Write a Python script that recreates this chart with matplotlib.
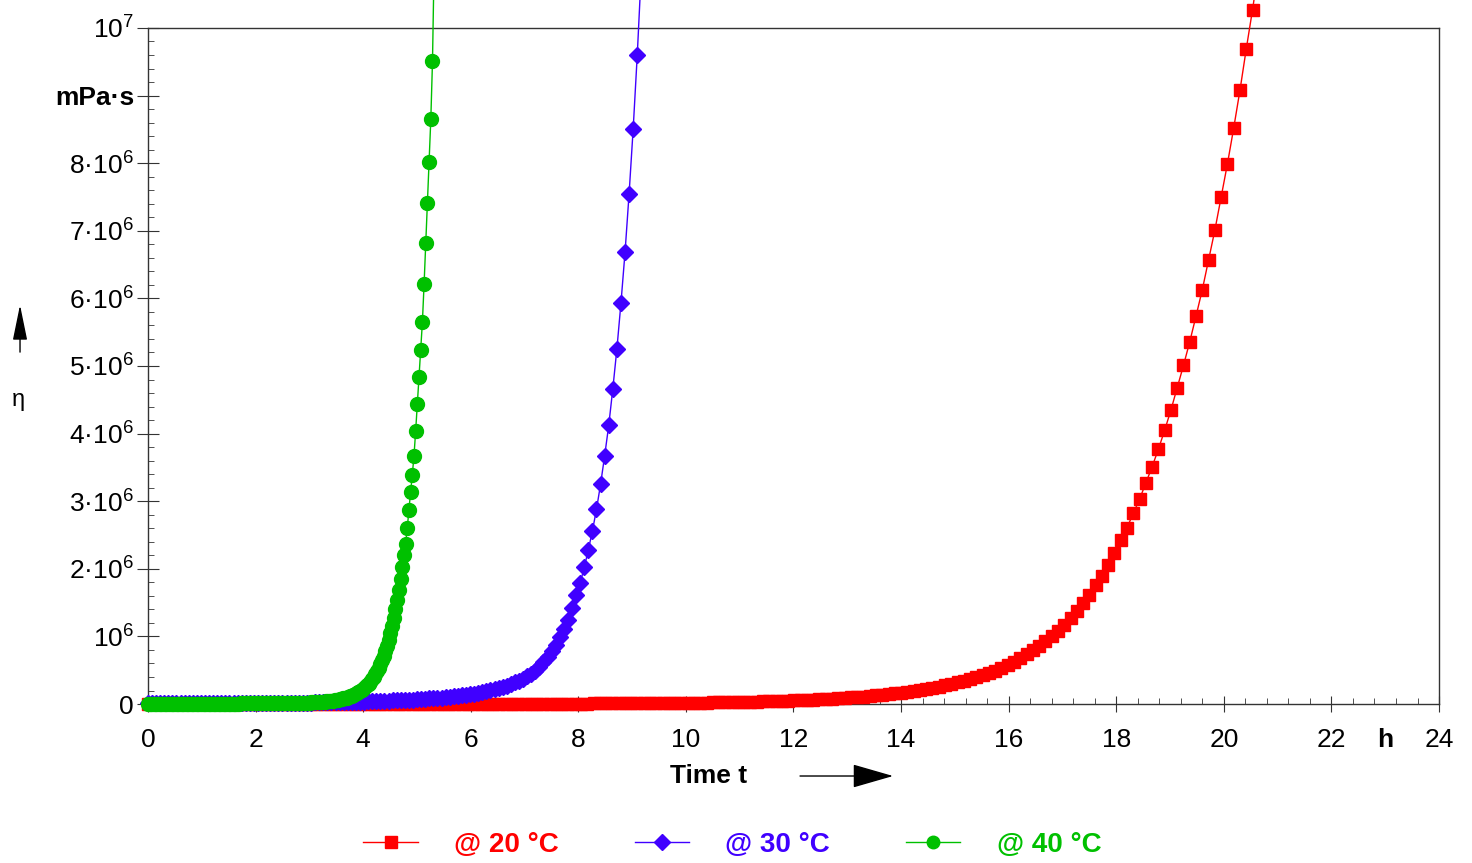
import matplotlib
matplotlib.use("Agg")
import matplotlib.pyplot as plt
import numpy as np
from matplotlib.ticker import FixedLocator, MultipleLocator

plt.rcParams['font.family'] = ['Liberation Sans', 'DejaVu Sans']
plt.rcParams['mathtext.fontset'] = 'custom'
plt.rcParams['mathtext.rm'] = 'Liberation Sans'
plt.rcParams['mathtext.it'] = 'Liberation Sans:italic'
plt.rcParams['mathtext.bf'] = 'Liberation Sans:bold'

# viscosity in 10^6 mPa·s, measured at regular intervals (hours)
step_20 = 7 / 60
step_30 = 0.0758
step_40 = 0.0313

visc_20 = [
    0.002, 0.002, 0.002, 0.002, 0.002, 0.002, 0.002, 0.002, 0.002, 0.002,
    0.002, 0.002, 0.002, 0.002, 0.002, 0.002, 0.002, 0.002, 0.002, 0.002,
    0.003, 0.003, 0.003, 0.003, 0.003, 0.003, 0.003, 0.003, 0.003, 0.003,
    0.003, 0.003, 0.003, 0.003, 0.003, 0.003, 0.003, 0.003, 0.003, 0.003,
    0.004, 0.004, 0.004, 0.004, 0.004, 0.004, 0.004, 0.004, 0.004, 0.004,
    0.004, 0.004, 0.004, 0.004, 0.004, 0.004, 0.004, 0.004, 0.004, 0.004,
    0.005, 0.005, 0.005, 0.005, 0.006, 0.006, 0.006, 0.006, 0.007, 0.007,
    0.007, 0.008, 0.008, 0.008, 0.009, 0.009, 0.010, 0.010, 0.011, 0.011,
    0.012, 0.013, 0.014, 0.015, 0.016, 0.017, 0.018, 0.019, 0.020, 0.021,
    0.023, 0.024, 0.026, 0.028, 0.029, 0.031, 0.033, 0.036, 0.038, 0.040,
    0.043, 0.046, 0.049, 0.053, 0.056, 0.060, 0.065, 0.069, 0.074, 0.079,
    0.085, 0.091, 0.097, 0.104, 0.111, 0.119, 0.127, 0.136, 0.146, 0.156,
    0.167, 0.180, 0.193, 0.208, 0.223, 0.240, 0.258, 0.277, 0.298, 0.321,
    0.345, 0.370, 0.398, 0.428, 0.460, 0.495, 0.535, 0.579, 0.626, 0.678,
    0.733, 0.793, 0.858, 0.929, 1.005, 1.087, 1.176, 1.273, 1.377,
    1.49, 1.62, 1.76, 1.90, 2.05, 2.23, 2.42, 2.61, 2.82, 3.03,
    3.27, 3.51, 3.77, 4.05, 4.35, 4.68, 5.01, 5.36, 5.74, 6.13,
    6.57, 7.01, 7.50, 7.99, 8.52, 9.08, 9.69, 10.27, 10.9,
]

visc_30 = [
    0.008, 0.008, 0.008, 0.009, 0.009, 0.009, 0.009, 0.010, 0.010, 0.010,
    0.010, 0.011, 0.011, 0.011, 0.011, 0.012, 0.012, 0.012, 0.012, 0.013,
    0.013, 0.013, 0.014, 0.014, 0.015, 0.015, 0.015, 0.016, 0.016, 0.017,
    0.017, 0.018, 0.018, 0.019, 0.019, 0.020, 0.020, 0.021, 0.021, 0.021,
    0.022, 0.023, 0.024, 0.025, 0.026, 0.027, 0.028, 0.029, 0.031, 0.032,
    0.033, 0.034, 0.036,
    0.037, 0.039, 0.041, 0.043, 0.045, 0.048, 0.050, 0.053, 0.055, 0.058,
    0.061, 0.064, 0.067, 0.071, 0.074, 0.078, 0.082,
    0.086, 0.091, 0.096, 0.102, 0.108, 0.115, 0.122, 0.129, 0.137, 0.145,
    0.154, 0.163, 0.173, 0.186, 0.201, 0.217, 0.235, 0.253, 0.274, 0.296,
    0.319, 0.345, 0.376, 0.410, 0.447, 0.487, 0.548, 0.617, 0.694, 0.780,
    0.878, 0.988, 1.11,
    1.25, 1.42, 1.61, 1.79, 2.02, 2.28, 2.56, 2.88, 3.25, 3.67,
    4.12, 4.66, 5.25, 5.93, 6.68, 7.55, 8.51, 9.60, 10.85,
]

visc_40 = [
    0.004, 0.004, 0.004, 0.004, 0.004, 0.004, 0.004, 0.004, 0.004, 0.004,
    0.005, 0.005, 0.005, 0.005, 0.005, 0.005, 0.005, 0.005, 0.005, 0.005,
    0.005, 0.005, 0.005, 0.005, 0.005, 0.005, 0.005, 0.005, 0.005, 0.005,
    0.006, 0.006, 0.006, 0.006, 0.006, 0.006, 0.006, 0.006, 0.006, 0.006,
    0.006, 0.006, 0.006, 0.006, 0.006, 0.007, 0.007, 0.007, 0.007, 0.007,
    0.007, 0.007, 0.007, 0.007, 0.007, 0.008, 0.008, 0.008, 0.008, 0.008,
    0.008, 0.008, 0.009, 0.009, 0.009, 0.010, 0.010, 0.010, 0.010, 0.011,
    0.011, 0.011, 0.012, 0.012, 0.012, 0.013, 0.013, 0.013, 0.014, 0.014,
    0.014, 0.014, 0.015, 0.015, 0.015, 0.015, 0.015, 0.015, 0.015, 0.015,
    0.015, 0.016, 0.017, 0.018, 0.020, 0.021, 0.022, 0.023, 0.025, 0.026,
    0.028, 0.029, 0.031, 0.033, 0.035, 0.037, 0.039, 0.042, 0.044,
    0.048, 0.052, 0.056, 0.060, 0.065, 0.071, 0.076, 0.082, 0.089, 0.096,
    0.105, 0.114, 0.125, 0.136, 0.148, 0.161, 0.176, 0.192, 0.209, 0.228,
    0.251, 0.276, 0.303, 0.333, 0.367, 0.403, 0.444, 0.488, 0.537, 0.591,
    0.650, 0.715, 0.786, 0.865, 0.95, 1.05, 1.15, 1.27, 1.40, 1.54,
    1.69, 1.85, 2.03, 2.20, 2.37, 2.60, 2.87, 3.14, 3.39, 3.67,
    4.04, 4.44, 4.84, 5.24, 5.65, 6.21, 6.82, 7.41, 8.02, 8.65, 9.51, 11.0,
]

series = [
    ('@ 20 °C', step_20, visc_20, '#ff0000', 's', 9),
    ('@ 30 °C', step_30, visc_30, '#4000ff', 'D', 8.5),
    ('@ 40 °C', step_40, visc_40, '#00c000', 'o', 10),
]

y_ticks = [0, 1, 2, 3, 4, 5, 6, 7, 8, 9, 10]
y_labels = ['0', '$10^{6}$', '$2·10^{6}$', '$3·10^{6}$', '$4·10^{6}$', '$5·10^{6}$',
            '$6·10^{6}$', '$7·10^{6}$', '$8·10^{6}$', 'mPa·s', '$10^{7}$']
x_ticks = [0, 2, 4, 6, 8, 10, 12, 14, 16, 18, 20, 22, 24]

fig = plt.figure(figsize=(14.72, 8.63), dpi=100)
ax = fig.add_axes([0.1005, 0.1842, 0.8771, 0.7834])

for label, step, vals, color, marker, ms in series:
    t = np.arange(len(vals)) * step
    ax.plot(t, vals, color=color, lw=1.0, marker=marker, ms=ms, mec=color,
            label=label, clip_on=False, zorder=3)

ax.set_xlim(0, 24)
ax.set_ylim(0, 10)

ax.xaxis.set_major_locator(FixedLocator(x_ticks))
ax.xaxis.set_minor_locator(MultipleLocator(0.4))
ax.yaxis.set_major_locator(FixedLocator(y_ticks))
ax.yaxis.set_minor_locator(MultipleLocator(0.2))
ax.set_yticklabels(y_labels)
ax.set_xticklabels([str(v) for v in x_ticks])
ax.get_yticklabels()[9].set_fontweight('bold')

ax.tick_params(axis='both', which='major', color='#333333')
ax.tick_params(axis='y', which='major', direction='inout', length=16, pad=2, labelsize=19)
ax.tick_params(axis='x', which='major', direction='inout', length=12, pad=11, labelsize=19)
ax.tick_params(axis='both', which='minor', direction='in', length=4, color='#333333')

for s in ax.spines.values():
    s.set_color('#333333')
    s.set_linewidth(1.0)

# unit label on the x axis, in place of a tick label
ax.annotate('h', xy=(23, 0), xycoords=('data', 'axes fraction'),
            xytext=(0, -17.5), textcoords='offset points', ha='center', va='top',
            fontsize=19, fontweight='bold')

# axis titles with arrows
fig.text(0.4817, 0.1008, 'Time t', ha='center', va='center', fontsize=19,
         fontweight='bold')
fig.patches.append(matplotlib.patches.FancyArrowPatch(
    (0.5435, 0.1008), (0.6067, 0.1008), transform=fig.transFigure,
    arrowstyle='-|>,head_length=2.6,head_width=0.75', mutation_scale=10,
    shrinkA=0, shrinkB=0, color='black', lw=1.0))
fig.text(0.0122, 0.5365, 'η', ha='center', va='center', fontsize=17)
fig.patches.append(matplotlib.patches.FancyArrowPatch(
    (0.0136, 0.592), (0.0136, 0.6466), transform=fig.transFigure,
    arrowstyle='-|>,head_length=2.2,head_width=0.45', mutation_scale=10,
    shrinkA=0, shrinkB=0, color='black', lw=1.0))

leg = fig.legend(loc='center', bbox_to_anchor=(0.4975, 0.021), ncol=3, frameon=False,
                 prop={'weight': 'bold', 'size': 20},
                 handlelength=1.95, handletextpad=1.3, columnspacing=2.75,
                 markerscale=0.9)
for txt, s in zip(leg.get_texts(), series):
    txt.set_color(s[3])

fig.savefig('out.png', dpi=100)
